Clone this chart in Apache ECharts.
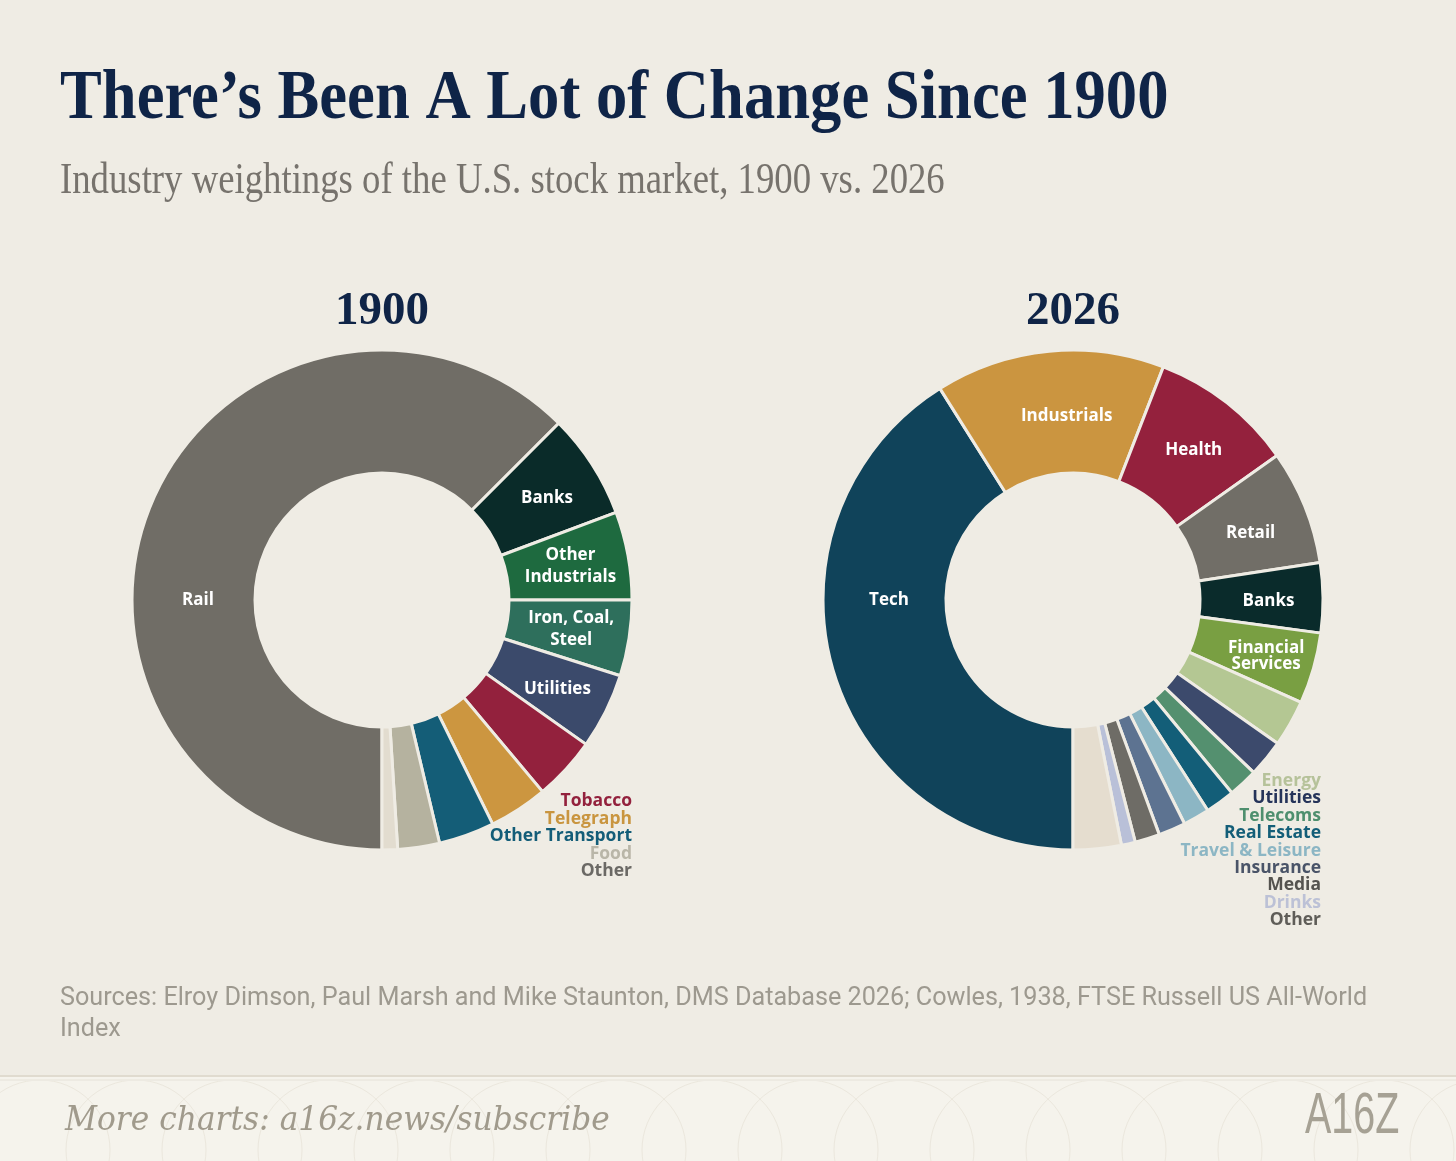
<!DOCTYPE html>
<html>
<head>
<meta charset="utf-8">
<script src="https://cdn.jsdelivr.net/npm/echarts@6/dist/echarts.min.js"></script>
<style>
  html, body { margin: 0; padding: 0; background: #efece4; }
  #chart { width: 1456px; height: 1161px; }
</style>
</head>
<body>
<div id="chart"></div>
<script>
// ---------- DATA ----------
var categories1900 = ['Rail', 'Banks', 'Other Industrials', 'Iron, Coal, Steel', 'Utilities',
  'Tobacco', 'Telegraph', 'Other Transport', 'Food', 'Other'];
var values1900 = [62.5, 6.8, 5.7, 4.9, 4.9, 4.1, 3.8, 3.6, 2.7, 1.0];

var categories2026 = ['Tech', 'Industrials', 'Health', 'Retail', 'Banks', 'Financial Services',
  'Energy', 'Utilities', 'Telecoms', 'Real Estate', 'Travel & Leisure', 'Insurance', 'Media', 'Drinks', 'Other'];
var values2026 = [41.0, 14.8, 9.3, 7.4, 4.5, 4.6, 3.0, 2.4, 1.9, 1.9, 1.7, 1.75, 1.6, 0.9, 3.1];

// number of slices labelled inside the ring (the rest are listed to the lower right)
var insideCount1900 = 5;
var insideCount2026 = 6;

// ---------- STYLE ----------
var colors1900 = ['#706d66', '#0a2b29', '#1e6a3f', '#2e6f5c', '#3b4a6b', '#93213d',
  '#cc9640', '#145d77', '#b5b29f', '#e2dccf'];
var listColors1900 = {5: '#93213d', 6: '#c9953f', 7: '#135d78', 8: '#b9b6a8', 9: '#6b6965'};

var colors2026 = ['#10435a', '#cb9540', '#94213d', '#716e67', '#0a2b2b', '#799f42',
  '#b4c793', '#3c4a6c', '#54906f', '#135e78', '#8cb6c4', '#5d7391', '#6e6c66', '#b9c0d8', '#e5ddcf'];
var listColors2026 = {6: '#b6c29a', 7: '#26345a', 8: '#4e8f6e', 9: '#135e78', 10: '#8cb6c4',
  11: '#4a5468', 12: '#55534f', 13: '#bcc1d6', 14: '#5f5d58'};

var lineBreaks = {
  'Other Industrials': 'Other\nIndustrials',
  'Iron, Coal, Steel': 'Iron, Coal,\nSteel',
  'Financial Services': 'Financial\nServices'
};
// small nudges of inside labels (px)
var nudge2026 = {1: [12, 7], 2: [3, 1], 3: [0, 5], 4: [4, 3], 5: [9, 4]};
var nudge1900 = {1: [4, 2], 4: [4, 4]};

var BG = '#efece4';
var C1 = [382, 600], C2 = [1073, 600];
var R_IN = 127, R_OUT = 250;

function buildData(cats, vals, cols, listCols, insideCount) {
  return cats.map(function (c, i) {
    var inside = i < insideCount;
    return {
      name: c,
      value: vals[i],
      itemStyle: { color: cols[i] },
      label: inside ? {
        color: '#ffffff', fontSize: 17, fontWeight: 700,
        lineHeight: c === 'Financial Services' ? 16 : 22
      } : {
        color: listCols[i], fontSize: 17.5, fontWeight: 700, lineHeight: 18
      }
    };
  });
}

function makeLayout(center, insideCount, listX, listY0, listStep, nudge) {
  return function (params) {
    var i = params.dataIndex;
    if (i === 0) {
      return { x: center[0] - 184, y: center[1], align: 'center', verticalAlign: 'middle' };
    }
    if (i >= insideCount) {
      var k = i - insideCount;
      return { x: listX, y: listY0 + k * listStep, align: 'right', verticalAlign: 'middle' };
    }
    if (nudge[i]) return { dx: nudge[i][0], dy: nudge[i][1] };
    return {};
  };
}

function pieSeries(center, data, insideCount, listX, listY0, listStep, nudge) {
  return {
    type: 'pie',
    center: center,
    radius: [R_IN, R_OUT],
    startAngle: 270,
    clockwise: true,
    avoidLabelOverlap: false,
    silent: true,
    itemStyle: { borderColor: BG, borderWidth: 3 },
    label: {
      show: true,
      position: 'inside',
      fontFamily: 'Open Sans',
      formatter: function (p) { return lineBreaks[p.name] || p.name; }
    },
    labelLine: { show: false },
    labelLayout: makeLayout(center, insideCount, listX, listY0, listStep, nudge),
    emphasis: { disabled: true },
    data: data
  };
}

var chart = echarts.init(document.getElementById('chart'), null, { renderer: 'canvas' });

var footerArcs = [];
for (var a = 0; a < 16; a++) {
  footerArcs.push({ type: 'circle', silent: true,
    shape: { cx: 40 + a * 96, cy: 1150, r: 70 },
    style: { fill: 'none', stroke: '#ebe7dd', lineWidth: 1 } });
}

var option = {
  backgroundColor: BG,
  animation: false,
  series: [
    pieSeries(C1, buildData(categories1900, values1900, colors1900, listColors1900, insideCount1900),
      insideCount1900, 632, 801, 17.6, nudge1900),
    pieSeries(C2, buildData(categories2026, values2026, colors2026, listColors2026, insideCount2026),
      insideCount2026, 1321, 781, 17.4, nudge2026)
  ],
  graphic: [
    { type: 'text', x: 60, y: 100, scaleX: 0.895,
      style: { text: 'There\u2019s Been A Lot of Change Since 1900', font: 'bold 70px "Liberation Serif"',
        fill: '#0f2447', textVerticalAlign: 'middle' } },
    { type: 'text', x: 60, y: 181, scaleX: 0.835,
      style: { text: 'Industry weightings of the U.S. stock market, 1900 vs. 2026', font: '44px "Liberation Serif"',
        fill: '#77736d', textVerticalAlign: 'middle' } },
    { type: 'text', x: C1[0], y: 312,
      style: { text: '1900', font: 'bold 47px "Liberation Serif"', fill: '#0f2447',
        textAlign: 'center', textVerticalAlign: 'middle' } },
    { type: 'text', x: C2[0], y: 312,
      style: { text: '2026', font: 'bold 47px "Liberation Serif"', fill: '#0f2447',
        textAlign: 'center', textVerticalAlign: 'middle' } },
    { type: 'text', x: 60, y: 999,
      style: { text: 'Sources: Elroy Dimson, Paul Marsh and Mike Staunton, DMS Database 2026; Cowles, 1938, FTSE Russell US All-World',
        font: '25.2px Roboto', fill: '#9d998f', textVerticalAlign: 'middle' } },
    { type: 'text', x: 60, y: 1030,
      style: { text: 'Index', font: '25.2px Roboto', fill: '#9d998f', textVerticalAlign: 'middle' } },
    // footer band
    { type: 'rect', shape: { x: 0, y: 1077, width: 1456, height: 84 }, style: { fill: '#f5f3ec' } },
    { type: 'group', children: footerArcs, clipPath: { type: 'rect', shape: { x: 0, y: 1081, width: 1456, height: 80 } } },
    { type: 'line', shape: { x1: 0, y1: 1076, x2: 1456, y2: 1076 }, style: { stroke: '#e0dbcf', lineWidth: 2 } },
    { type: 'line', shape: { x1: 0, y1: 1080, x2: 1456, y2: 1080 }, style: { stroke: '#e6e2d8', lineWidth: 1 } },
    { type: 'text', x: 65, y: 1121, scaleX: 0.92,
      style: { text: 'More charts: a16z.news/subscribe', font: 'italic 34px "DejaVu Serif"',
        fill: '#a09a8c', textVerticalAlign: 'middle' } },
    { type: 'text', x: 1305, y: 1117, scaleX: 0.68,
      style: { text: 'A16Z', font: '58px "Liberation Sans"', fill: '#a6a194', textVerticalAlign: 'middle' } }
  ]
};

chart.setOption(option);
</script>
</body>
</html>
